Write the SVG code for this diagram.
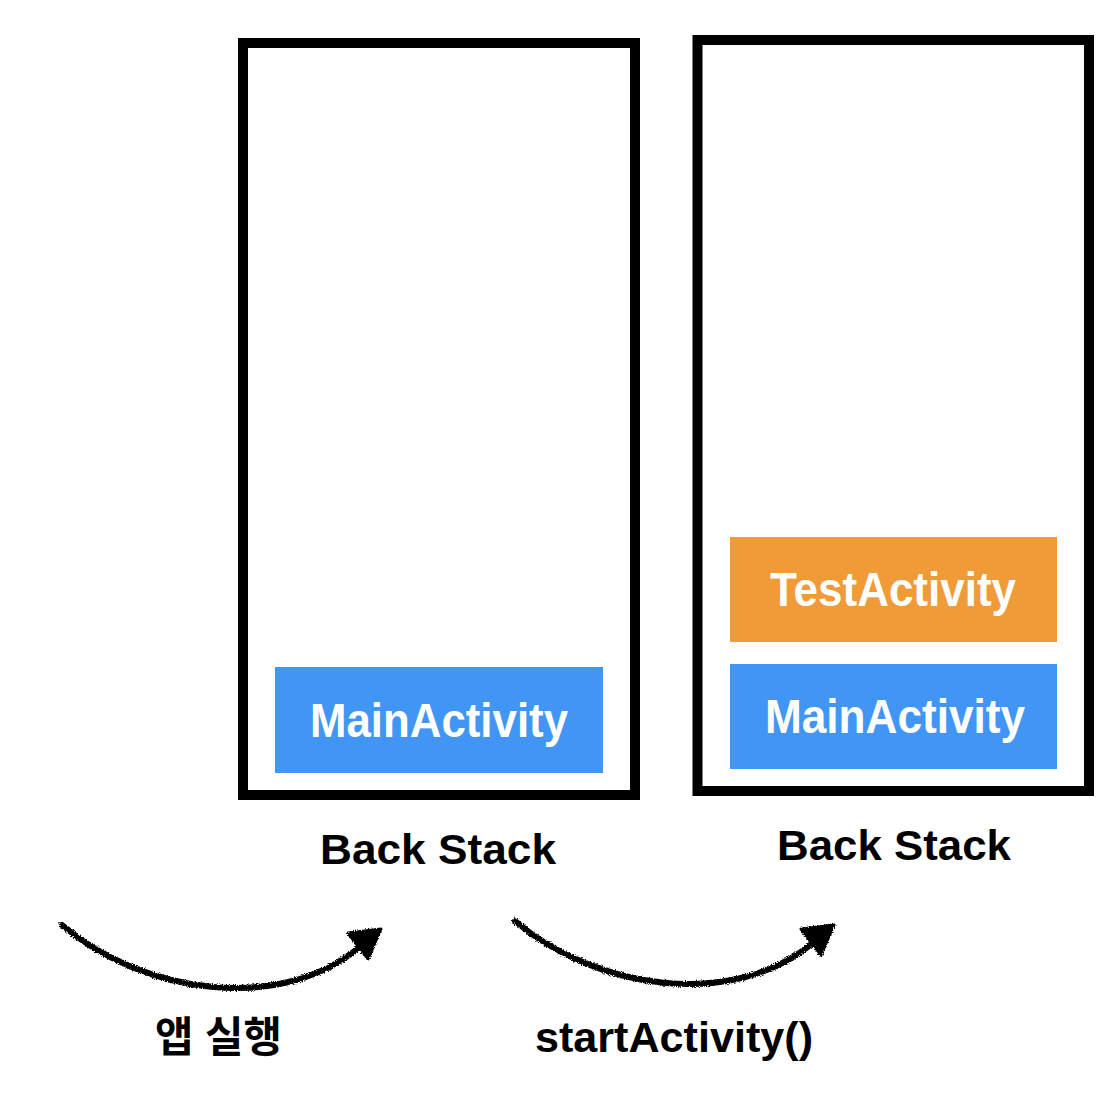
<svg xmlns="http://www.w3.org/2000/svg" width="1120" height="1098" viewBox="0 0 1120 1098">
  <defs>
    <style>
      .stack { fill: none; stroke: #000; stroke-width: 10; }
      .main { fill: #4196F5; }
      .test { fill: #F09A38; }
      .label { font-family: "Liberation Sans", Arial, sans-serif; font-weight: bold; fill: #fff; font-size: 48px; }
      .caption { font-family: "Liberation Sans", Arial, sans-serif; font-weight: bold; fill: #000; font-size: 42px; }
      .kcaption { font-family: "Liberation Sans", "Noto Sans CJK KR", sans-serif; font-weight: bold; fill: #000; font-size: 42px; }
      .curve { fill: none; stroke: #000; stroke-width: 6; stroke-linecap: round; }
      .head { fill: #000; stroke: #000; stroke-width: 3; stroke-linejoin: round; }
    </style>
    <filter id="rough" x="-10%" y="-30%" width="120%" height="160%">
      <feTurbulence type="fractalNoise" baseFrequency="0.9" numOctaves="2" seed="3" result="noise"/>
      <feDisplacementMap in="SourceGraphic" in2="noise" scale="4" xChannelSelector="R" yChannelSelector="G"/>
    </filter>
  </defs>
  <rect width="1120" height="1098" fill="#fff"/>

  <g id="stack1">
    <rect class="stack" x="243" y="43" width="392" height="752"/>
    <text class="caption" x="320" y="864" textLength="236" lengthAdjust="spacingAndGlyphs">Back Stack</text>
  </g>
  <g id="stack1-main">
    <rect class="main" x="275" y="667" width="328" height="106"/>
    <text class="label" x="310" y="737" textLength="258" lengthAdjust="spacingAndGlyphs">MainActivity</text>
  </g>

  <g id="stack2">
    <rect class="stack" x="697.5" y="40" width="391.5" height="751"/>
    <text class="caption" x="777" y="860" textLength="234" lengthAdjust="spacingAndGlyphs">Back Stack</text>
  </g>
  <g id="stack2-test">
    <rect class="test" x="730" y="537" width="327" height="105"/>
    <text class="label" x="770" y="606" textLength="246" lengthAdjust="spacingAndGlyphs">TestActivity</text>
  </g>
  <g id="stack2-main">
    <rect class="main" x="730" y="664" width="327" height="105"/>
    <text class="label" x="765" y="733" textLength="260" lengthAdjust="spacingAndGlyphs">MainActivity</text>
  </g>

  <g id="connectors" filter="url(#rough)">
    <g id="arrow1">
      <path class="curve" d="M62,925 C140,992 280,1016 362,945"/>
      <polygon class="head" points="348,933 381,929 368,959"/>
    </g>
    <g id="arrow2" transform="translate(453,-4)">
      <path class="curve" d="M62,925 C140,992 280,1016 362,945"/>
      <polygon class="head" points="348,933 381,929 368,959"/>
    </g>
  </g>

  <g id="label-launch">
    <text class="kcaption" x="155" y="1052" textLength="127" lengthAdjust="spacingAndGlyphs">앱 실행</text>
  </g>
  <g id="label-start">
    <text class="caption" x="535" y="1052" textLength="278" lengthAdjust="spacingAndGlyphs">startActivity()</text>
  </g>
</svg>
